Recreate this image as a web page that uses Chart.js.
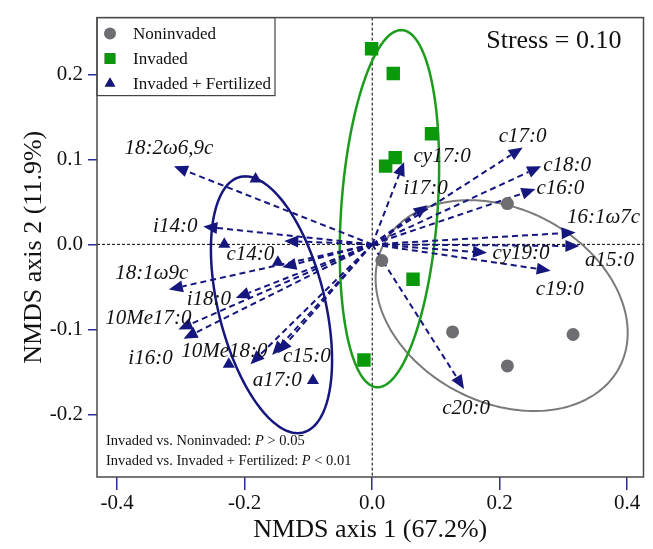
<!DOCTYPE html>
<html>
<head>
<meta charset="utf-8">
<script src="https://cdn.jsdelivr.net/npm/chart.js@4.4.1/dist/chart.umd.min.js"></script>
<style>
  html, body { margin: 0; padding: 0; background: #fff; }
</style>
</head>
<body>
<canvas id="nmdsChart" width="653" height="549"></canvas>
<script>
// site scores (NMDS axis 1 / axis 2)
const nonX = [0.015, 0.212, 0.126, 0.212, 0.315];
const nonY = [-0.019, 0.048, -0.103, -0.143, -0.106];
const invX = [-0.001, 0.033, 0.093, 0.021, 0.036, 0.064, -0.013];
const invY = [0.230, 0.201, 0.130, 0.092, 0.102, -0.041, -0.136];
const fertX = [-0.183, -0.232, -0.148, -0.225, -0.093];
const fertY = [0.077, 0.000, -0.021, -0.141, -0.160];

// fatty acid vectors
const faNames = ["18:2ω6,9c", "i14:0", "", "c14:0", "18:1ω9c", "i18:0", "10Me17:0", "i16:0", "10Me18:0", "a17:0", "c15:0",
                 "cy17:0", "c17:0", "c18:0", "c16:0", "i17:0", "16:1ω7c", "a15:0", "cy19:0", "c19:0", "c20:0"];
const faX = [-0.311, -0.265, -0.138, -0.141, -0.319, -0.214, -0.304, -0.296, -0.191, -0.157, -0.148,
             0.050, 0.236, 0.265, 0.256, 0.087, 0.319, 0.325, 0.180, 0.280, 0.144];
const faY = [0.092, 0.021, 0.004, -0.027, -0.053, -0.063, -0.100, -0.111, -0.141, -0.130, -0.128,
             0.097, 0.114, 0.092, 0.065, 0.046, 0.014, -0.002, -0.010, -0.031, -0.170];
// label nudge from arrow tip (px)
const labelDx = [-5, -28, 0, -32, -17, -27, -30, -33, -26, 5, 29, 38, 0, 26, 25, -2, 28, 30, 34, 9, 2];
const labelDy = [-18, 0, 0, -13, -16, 2, -11, 20, -13, 26, 3, -5, -11, -1, -1, -17, -15, 14, 1, 19, 20];

// group ellipses: centre x, centre y, semi-axis u (x, y), semi-axis v (x, y)
const ellNon = [0.203, -0.072, -0.051, 0.124, 0.191, 0];
const ellInv = [0.027, 0.042, 0.0185, 0.210, 0.0757, 0];
const ellFert = [-0.158, -0.071, -0.041, 0.151, 0.0857, 0];

const xTicks = [-0.4, -0.2, 0.0, 0.2, 0.4];
const yTicks = [-0.2, -0.1, 0.0, 0.1, 0.2];

const NAVY = "#16167f";
const GREEN = "#0a990a";
const GREY = "#6d6d72";
const SERIF = "'Liberation Serif', 'Times New Roman', serif";

const pts = (xs, ys) => xs.map((x, i) => ({ x: x, y: ys[i] }));

const nmdsPlugin = {
    id: "nmdsExtras",
    beforeDatasetsDraw(chart) {
        const { ctx, chartArea: a, scales: { x, y } } = chart;
        ctx.save();
        ctx.beginPath();
        ctx.rect(a.left, a.top, a.right - a.left, a.bottom - a.top);
        ctx.clip();

        // dotted zero lines
        const x0 = x.getPixelForValue(0), y0 = y.getPixelForValue(0);
        ctx.setLineDash([3, 2]);
        ctx.strokeStyle = "#000";
        ctx.lineWidth = 1;
        ctx.beginPath();
        ctx.moveTo(a.left, y0); ctx.lineTo(a.right, y0);
        ctx.moveTo(x0, a.top); ctx.lineTo(x0, a.bottom);
        ctx.stroke();
        ctx.setLineDash([]);

        // ellipses
        const drawEll = (e, color, w) => {
            ctx.strokeStyle = color;
            ctx.lineWidth = w;
            ctx.beginPath();
            for (let k = 0; k <= 240; k++) {
                const t = k / 240 * Math.PI * 2;
                const px = x.getPixelForValue(e[0] + e[2] * Math.cos(t) + e[4] * Math.sin(t));
                const py = y.getPixelForValue(e[1] + e[3] * Math.cos(t) + e[5] * Math.sin(t));
                if (k === 0) ctx.moveTo(px, py); else ctx.lineTo(px, py);
            }
            ctx.stroke();
        };
        drawEll(ellNon, "#7a7a7a", 2);
        drawEll(ellInv, "#1c9c1c", 2.5);
        drawEll(ellFert, NAVY, 2.5);

        // vectors
        const headLen = 14, headHalf = 6;
        faX.forEach((fx, i) => {
            const tx = x.getPixelForValue(fx), ty = y.getPixelForValue(faY[i]);
            const ang = Math.atan2(ty - y0, tx - x0);
            const bx = tx - headLen * Math.cos(ang), by = ty - headLen * Math.sin(ang);
            ctx.strokeStyle = NAVY;
            ctx.lineWidth = 2;
            ctx.setLineDash([6, 4]);
            ctx.beginPath();
            ctx.moveTo(x0, y0); ctx.lineTo(bx, by);
            ctx.stroke();
            ctx.setLineDash([]);
            ctx.fillStyle = NAVY;
            ctx.beginPath();
            ctx.moveTo(tx, ty);
            ctx.lineTo(bx - headHalf * Math.sin(ang), by + headHalf * Math.cos(ang));
            ctx.lineTo(bx + headHalf * Math.sin(ang), by - headHalf * Math.cos(ang));
            ctx.closePath();
            ctx.fill();
        });
        ctx.restore();

        // vector labels
        ctx.save();
        ctx.font = "italic 21px " + SERIF;
        ctx.fillStyle = "#111";
        ctx.textAlign = "center";
        ctx.textBaseline = "middle";
        faNames.forEach((name, i) => {
            if (!name) return;
            const tx = x.getPixelForValue(faX[i]), ty = y.getPixelForValue(faY[i]);
            ctx.fillText(name, tx + labelDx[i], ty + labelDy[i]);
        });
        ctx.restore();
    },
    afterDatasetsDraw(chart) {
        const { ctx, chartArea: a } = chart;
        ctx.save();

        // legend box
        ctx.fillStyle = "#fff";
        ctx.fillRect(a.left, a.top, 178, 78);
        ctx.strokeStyle = "#444";
        ctx.lineWidth = 1.2;
        ctx.strokeRect(a.left, a.top, 178, 78);
        const mx = a.left + 13;
        chart.data.datasets.forEach((ds, i) => {
            const my = a.top + 16 + i * 25;
            Chart.helpers.drawPoint(ctx, {
                pointStyle: ds.pointStyle,
                radius: ds.pointStyle === "rect" ? 7.5 : 6,
                borderWidth: 0
            }, mx, my);
            ctx.fillStyle = ds.backgroundColor;
            ctx.fill();
            ctx.fillStyle = "#111";
            ctx.font = "17px " + SERIF;
            ctx.textAlign = "left";
            ctx.textBaseline = "middle";
            ctx.fillText(ds.label, a.left + 36, my + 1);
        });

        // stress
        ctx.font = "26px " + SERIF;
        ctx.textAlign = "right";
        ctx.textBaseline = "middle";
        ctx.fillStyle = "#111";
        ctx.fillText("Stress = 0.10", a.right - 22, a.top + 24);

        // test results
        const line = (parts, yy) => {
            let cx = a.left + 9;
            parts.forEach(p => {
                ctx.font = (p[1] ? "italic " : "") + "14.5px " + SERIF;
                ctx.textAlign = "left";
                ctx.fillText(p[0], cx, yy);
                cx += ctx.measureText(p[0]).width;
            });
        };
        line([["Invaded vs. Noninvaded: ", false], ["P", true], [" > 0.05", false]], a.bottom - 36);
        line([["Invaded vs. Invaded + Fertilized: ", false], ["P", true], [" < 0.01", false]], a.bottom - 16);

        // frame
        ctx.strokeStyle = "#4a4a4a";
        ctx.lineWidth = 1.5;
        ctx.strokeRect(a.left, a.top, a.right - a.left, a.bottom - a.top);
        ctx.restore();
    }
};

const ctx = document.getElementById("nmdsChart");
new Chart(ctx, {
    type: "scatter",
    data: {
        datasets: [
            { label: "Noninvaded", data: pts(nonX, nonY), pointStyle: "circle", pointRadius: 6.5, backgroundColor: GREY, borderWidth: 0 },
            { label: "Invaded", data: pts(invX, invY), pointStyle: "rect", pointRadius: 9.5, backgroundColor: GREEN, borderWidth: 0 },
            { label: "Invaded + Fertilized", data: pts(fertX, fertY), pointStyle: "triangle", pointRadius: 7, backgroundColor: NAVY, borderWidth: 0 }
        ]
    },
    options: {
        responsive: false,
        animation: false,
        devicePixelRatio: 1,
        layout: { padding: { top: 11, right: 1, left: 0, bottom: 0 } },
        plugins: { legend: { display: false }, tooltip: { enabled: false } },
        scales: {
            x: {
                type: "linear",
                min: -0.4317,
                max: 0.4255,
                afterBuildTicks: s => { s.ticks = xTicks.map(v => ({ value: v })); },
                afterFit: s => { s.height = 72; },
                border: { display: false },
                grid: { drawOnChartArea: false, tickLength: 13, color: "#2b2b9c", lineWidth: 1.5 },
                ticks: {
                    autoSkip: false, maxRotation: 0, padding: 1, color: "#111",
                    font: { family: SERIF, size: 21 },
                    callback: v => v.toFixed(1)
                },
                title: {
                    display: true, text: "NMDS axis 1 (67.2%)", color: "#111",
                    font: { family: SERIF, size: 26, lineHeight: 1.2 },
                    padding: { top: 0, bottom: 3 }
                }
            },
            y: {
                type: "linear",
                min: -0.2736,
                max: 0.2667,
                afterBuildTicks: s => { s.ticks = yTicks.map(v => ({ value: v })); },
                afterFit: s => { s.width = 97; },
                border: { display: false },
                grid: { drawOnChartArea: false, tickLength: 9, color: "#2b2b9c", lineWidth: 1.5 },
                ticks: {
                    autoSkip: false, padding: 5, color: "#111",
                    font: { family: SERIF, size: 21 },
                    callback: v => v.toFixed(1)
                },
                title: {
                    display: true, text: "NMDS axis 2 (11.9%)", color: "#111",
                    font: { family: SERIF, size: 26, lineHeight: 1.2 },
                    padding: { top: 19, bottom: 0 }
                }
            }
        }
    },
    plugins: [nmdsPlugin]
});
</script>
</body>
</html>
